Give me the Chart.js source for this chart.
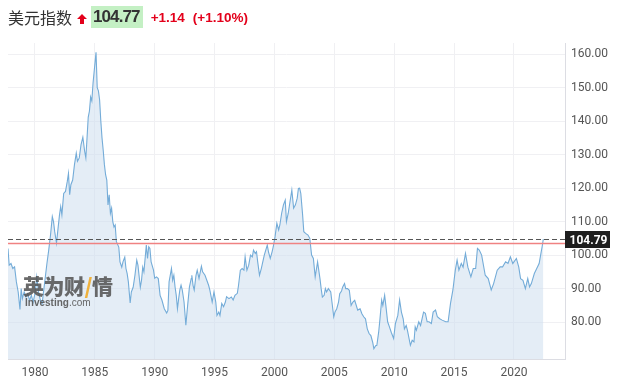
<!DOCTYPE html>
<html>
<head>
<meta charset="utf-8">
<script src="https://cdn.jsdelivr.net/npm/chart.js@4"></script>
<style>
  html,body{margin:0;padding:0;background:#fff;}
  #wrap{position:relative;width:623px;height:383px;}
  #c{position:absolute;left:0;top:0;}
  #hdr{position:absolute;left:8px;top:6px;height:22px;display:flex;align-items:center;white-space:nowrap;}
  .name{font-family:"Noto Sans CJK SC",sans-serif;font-size:16px;color:#333;letter-spacing:0px;}
  .arrow{display:inline-block;margin-left:5px;width:10px;height:12px;position:relative;}
  .price{font-family:"Liberation Sans",Arial,sans-serif;font-weight:bold;font-size:17px;letter-spacing:-0.9px;color:#333;background:#c4f0c4;padding:2px 3px 2px 2px;margin-left:4px;line-height:18px;}
  .chg{font-family:"Liberation Sans",Arial,sans-serif;font-weight:bold;font-size:13.5px;color:#e3001b;margin-left:8px;}
  #wm{position:absolute;left:23px;top:273px;}
  .wm1{font-family:"Noto Sans CJK SC",sans-serif;font-weight:900;font-size:21px;color:rgba(85,85,85,0.88);letter-spacing:-0.5px;line-height:24px;}
  .wm2{font-family:"Liberation Sans",Arial,sans-serif;font-size:10px;color:rgba(85,85,85,0.9);line-height:10px;margin-top:1px;margin-left:2px;}
</style>
</head>
<body>
<div id="wrap">
<canvas id="c" width="623" height="383"></canvas>
<div id="hdr">
  <span class="name">美元指数</span>
  <span class="arrow"><svg width="10" height="12" viewBox="0 0 10 12"><polygon points="5,1 10,6 7,6 7,11 3,11 3,6 0,6" fill="#e3001b"/></svg></span>
  <span class="price">104.77</span>
  <span class="chg">+1.14</span>
  <span class="chg" style="margin-left:8px">(+1.10%)</span>
</div>
<div id="wm">
  <div class="wm1">英为财<span style="color:rgba(240,170,40,0.9)">/</span>情</div>
  <div class="wm2"><b>Investing</b>.com</div>
</div>
</div>
<script>
const years = [
1977.75,1977.85,1978.0,1978.15,1978.3,1978.45,1978.6,1978.75,1978.85,1978.95,1979.1,1979.25,1979.4,1979.55,1979.7,1979.85,
1980.0,1980.15,1980.3,1980.45,1980.6,1980.7,1980.85,1981.0,1981.15,1981.3,1981.45,1981.55,1981.65,1981.8,1981.9,
1982.05,1982.15,1982.25,1982.4,1982.55,1982.7,1982.8,1982.9,1983.0,1983.15,1983.3,1983.45,1983.55,1983.7,1983.85,
1984.0,1984.15,1984.25,1984.35,1984.45,1984.55,1984.65,1984.75,1984.85,1984.95,1985.1,1985.2,1985.3,1985.4,1985.5,
1985.6,1985.7,1985.8,1985.9,1986.0,1986.1,1986.2,1986.3,1986.4,1986.5,1986.6,1986.7,1986.8,1987.0,1987.1,1987.25,
1987.35,1987.5,1987.6,1987.7,1987.8,1987.95,1988.05,1988.2,1988.35,1988.5,1988.6,1988.8,1988.9,1989.0,1989.1,1989.3,
1989.4,1989.5,1989.6,1989.7,1989.9,1990.0,1990.15,1990.3,1990.45,1990.6,1990.8,1991.0,1991.1,1991.2,1991.4,1991.5,
1991.6,1991.7,1991.8,1991.9,1992.0,1992.1,1992.2,1992.3,1992.45,1992.6,1992.75,1992.9,1993.05,1993.1,1993.2,1993.3,
1993.45,1993.55,1993.7,1993.9,1994.0,1994.2,1994.35,1994.5,1994.6,1994.8,1994.95,1995.1,1995.2,1995.35,1995.45,
1995.6,1995.75,1995.9,1996.0,1996.2,1996.4,1996.55,1996.7,1996.9,1997.0,1997.15,1997.3,1997.45,1997.55,1997.7,
1997.85,1998.0,1998.15,1998.25,1998.4,1998.5,1998.6,1998.75,1998.9,1999.15,1999.4,1999.5,1999.65,1999.8,1999.9,
2000.05,2000.2,2000.35,2000.45,2000.6,2000.75,2000.9,2001.0,2001.15,2001.3,2001.45,2001.6,2001.75,2001.9,2002.0,
2002.1,2002.2,2002.35,2002.45,2002.6,2002.8,2002.95,2003.1,2003.25,2003.4,2003.6,2003.8,2003.9,2004.0,2004.15,
2004.25,2004.35,2004.5,2004.7,2004.8,2004.95,2005.05,2005.2,2005.35,2005.45,2005.6,2005.7,2005.85,2005.95,2006.1,
2006.25,2006.4,2006.55,2006.7,2006.95,2007.15,2007.3,2007.45,2007.6,2007.75,2007.9,2008.05,2008.2,2008.3,2008.45,
2008.55,2008.7,2008.8,2008.95,2009.05,2009.2,2009.3,2009.45,2009.6,2009.75,2009.95,2010.1,2010.3,2010.45,2010.6,
2010.75,2010.85,2011.0,2011.1,2011.35,2011.5,2011.65,2011.75,2011.85,2012.05,2012.2,2012.45,2012.6,2012.75,2012.9,
2013.1,2013.25,2013.45,2013.6,2013.8,2014.0,2014.3,2014.5,2014.7,2014.9,2015.1,2015.25,2015.4,2015.6,2015.75,
2015.95,2016.15,2016.4,2016.6,2016.8,2016.95,2017.1,2017.3,2017.6,2017.85,2018.1,2018.3,2018.6,2018.85,2019.05,
2019.3,2019.5,2019.7,2019.9,2020.0,2020.2,2020.4,2020.55,2020.75,2020.95,2021.15,2021.3,2021.45,2021.7,2021.9,
2022.1,2022.25,2022.35,2022.45
];
const values = [
102,97,97.5,96,96.5,92,89,83.8,90,87,89,87.5,88.5,86.5,88,86,
88.5,93.5,89,86.6,85.5,88.6,93,97.5,101.5,106,111.5,110,107,103.6,107,
112,114.5,112,118.4,119,122,124.4,118,121,122.4,127,130.4,128,129,133,
135.2,131,129,135,141.2,143,147.2,146,151.3,155,160.5,150,149,146.3,140,
135,131.3,127,124,122.4,115,118,112.5,114,110,108.4,109,104,102.4,98,96.4,
98,99.4,96,94.5,92,85.7,89,90.4,94,98.5,97,90.4,92.5,96.4,95,103,
99,102.5,102,98,95.5,93.1,93.5,93,88,86.6,84,82.7,83.5,92,96,92.5,
94,90.5,88,84,87,89.6,91,89.6,86,79.1,85,90.5,93,94,91,89.6,
94,95.5,93,96.7,95,94,92.5,91,89.6,86,89,86,82,83,82,
85.6,84.6,86,87.6,87,87.5,86.6,88,88.6,91,95.5,96,95.5,99.5,95.5,
97,100,99.5,101.5,100.5,101,98,94,96,100,103,101,99,101,102.5,
105.5,109.5,107.5,109,112.5,115,116.4,110,112.5,116,119.4,114,115,117,119.9,
120,118.4,112,107,106.5,106,105,100,99,93.5,98,93,90,87.5,88,
90,89,90,89,86,81.6,83,84,86,88.5,89.3,90.5,91.5,90,90,
89.5,85,86,86.5,83.6,84,82.5,81.6,81,78,76.6,76,74,72.1,73,
73.1,77,80.6,86.6,85,88,85,80.1,78.6,77,75.1,79.6,82,86.6,83,
81,78,79,77.6,73.1,74.6,74.1,78.6,77.6,80.1,79,83,82.6,80.1,80.1,
79.6,83,83.6,81.6,81,80.6,80.1,80.1,85.6,89.6,95.5,98.5,95.5,97.5,96.4,
100.5,96.4,93.5,96,96,102,101.5,100,94,93,89.6,91.5,95.5,96.5,96.5,
98,97.5,99.5,97.5,98,99,96.4,93,92.5,90,93,90.5,91.5,94.5,96,
97.5,100.5,102.5,104.79
];
const xTickYears = [1980,1985,1990,1995,2000,2005,2010,2015,2020];
const yTickValues = [80,90,100,110,120,130,140,150,160];
const lastPrice = 104.79;
const prevClose = 103.63;

const points = years.map((x,i)=>({x:x,y:values[i]}));

const refLines = {
  id:'refLines',
  afterDraw(chart){
    const ctx = chart.ctx, ca = chart.chartArea, ys = chart.scales.y;
    const yd = Math.round(ys.getPixelForValue(lastPrice)) + 0.5;
    const yr = Math.round(ys.getPixelForValue(prevClose)) + 0.5;
    ctx.save();
    ctx.setLineDash([]);
    ctx.lineWidth = 1.3;
    ctx.strokeStyle = 'rgb(240,130,130)';
    ctx.beginPath(); ctx.moveTo(ca.left, yr); ctx.lineTo(ca.right, yr); ctx.stroke();
    ctx.lineWidth = 1;
    ctx.strokeStyle = '#555';
    ctx.setLineDash([5,3]);
    ctx.beginPath(); ctx.moveTo(ca.left, yd); ctx.lineTo(ca.right, yd); ctx.stroke();
    ctx.setLineDash([]);
    const bx = ca.right, bw = 45, bh = 17;
    ctx.fillStyle = '#1e1e1e';
    ctx.fillRect(bx, yd-bh/2, bw, bh);
    ctx.fillStyle = '#fff';
    ctx.font = 'bold 12px Roboto, sans-serif';
    ctx.textAlign = 'center'; ctx.textBaseline = 'middle';
    ctx.fillText(lastPrice.toFixed(2), bx+bw/2+1, yd+1);
    ctx.restore();
  }
};

new Chart(document.getElementById('c'), {
  type:'line',
  data:{datasets:[{
    data: points,
    borderColor:'#74acd8',
    borderWidth:1.1,
    backgroundColor:'rgba(205,222,238,0.55)',
    fill:'start',
    pointRadius:0,
    tension:0
  }]},
  options:{
    responsive:false,
    animation:false,
    events:[],
    layout:{padding:{left:8,top:43,right:0,bottom:0}},
    plugins:{legend:{display:false},tooltip:{enabled:false}},
    scales:{
      x:{
        type:'linear',
        min:1977.75, max:2024.26,
        afterBuildTicks(s){ s.ticks = xTickYears.map(v=>({value:v})); },
        afterFit(s){ s.height = 24; },
        grid:{color:'#f0f0f3', drawTicks:false},
        border:{color:'#dcdde3'},
        ticks:{color:'#555', font:{family:'Roboto', size:12}, padding:7, maxRotation:0, autoSkip:false,
          callback:(v)=>String(v)}
      },
      y:{
        type:'linear',
        position:'right',
        min:69.0, max:163.3,
        afterBuildTicks(s){ s.ticks = yTickValues.map(v=>({value:v})); },
        afterFit(s){ s.width = 58; },
        grid:{color:'#f0f0f3', drawTicks:false},
        border:{color:'#dcdde3'},
        ticks:{color:'#555', font:{family:'Roboto', size:12}, padding:6,
          callback:(v)=>Number(v).toFixed(2)}
      }
    }
  },
  plugins:[refLines]
});
</script>
</body>
</html>
